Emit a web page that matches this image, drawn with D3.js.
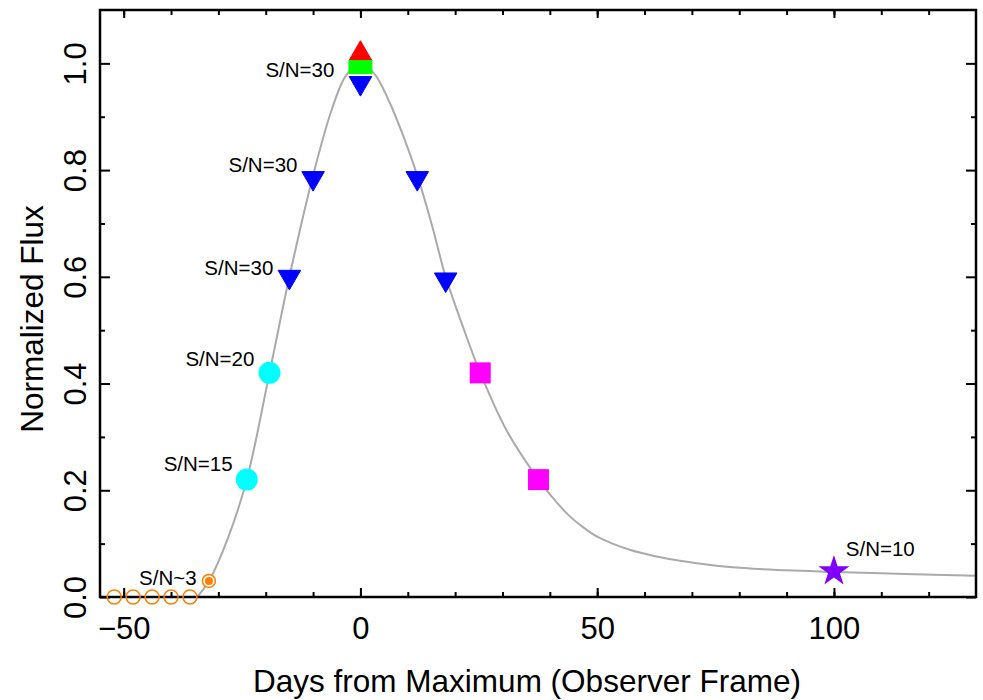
<!DOCTYPE html>
<html>
<head>
<meta charset="utf-8">
<script src="https://cdn.jsdelivr.net/npm/d3@7"></script>
<style>
  body { margin: 0; background: #fff; }
  svg { display: block; font-family: "Liberation Sans", Arial, sans-serif; }
</style>
</head>
<body>
<svg id="chart" width="983" height="700"></svg>
<script>
// ---- data ----
const curveDays = [-34.5, -32, -28, -24, -19.2, -15, -10, -6, -3, 0, 3, 6, 9, 12, 15, 18, 21.5, 25.3, 31, 37.6, 41, 44, 47, 50, 53.5, 57, 62, 67.5, 78, 90, 100, 115, 130];
const curveFlux = [0, 0.03, 0.11, 0.22, 0.42, 0.60, 0.79, 0.915, 0.978, 1.0, 0.98, 0.93, 0.865, 0.79, 0.70, 0.60, 0.51, 0.42, 0.31, 0.22, 0.182, 0.153, 0.131, 0.113, 0.099, 0.088, 0.077, 0.068, 0.056, 0.050, 0.047, 0.043, 0.040];

const limitDays = [-52, -48, -44, -40, -36];          // open orange circles at zero flux
const limitFlux = [0, 0, 0, 0, 0];
const detectDays = [-32];                              // orange circle with dot
const detectFlux = [0.03];
const cyanDays = [-24, -19.2];
const cyanFlux = [0.22, 0.42];
const blueDays = [-15, -10, 0, 12, 18];
const blueFlux = [0.60, 0.785, 0.963, 0.785, 0.595];
const redDays = [0];
const redFlux = [1.018];
const greenDays = [0];
const greenFlux = [0.993];
const magentaDays = [25.3, 37.6];
const magentaFlux = [0.42, 0.22];
const starDays = [100];
const starFlux = [0.05];

const labelText = ["S/N=30", "S/N=30", "S/N=30", "S/N=20", "S/N=15", "S/N~3", "S/N=10"];
const labelDays = [-5.5, -13.3, -18.4, -22.4, -27.0, -34.6, 102.5];
const labelFlux = [0.975, 0.797, 0.604, 0.433, 0.236, 0.022, 0.077];
const labelAnchor = ["end", "end", "end", "end", "end", "end", "start"];

const xMajorTicks = [-50, 0, 50, 100];
const xMinorTicks = [-50, -40, -30, -20, -10, 0, 10, 20, 30, 40, 50, 60, 70, 80, 90, 100, 110, 120];
const yMajorTicks = [0.0, 0.2, 0.4, 0.6, 0.8, 1.0];
const yMinorTicks = [0.1, 0.3, 0.5, 0.7, 0.9];

const xTitle = "Days from Maximum (Observer Frame)";
const yTitle = "Normalized Flux";

// ---- layout ----
const svg = d3.select("#chart");
const L = 100, R = 976, T = 10, B = 597;
const x = d3.scaleLinear().domain([-55, 130]).range([L, R]);
const y = d3.scaleLinear().domain([0, 1.1]).range([B, T]);

// curve
const line = d3.line().x((d, i) => x(curveDays[i])).y((d, i) => y(curveFlux[i])).curve(d3.curveCatmullRom.alpha(0.5));
svg.append("path").datum(curveDays).attr("d", line)
  .attr("fill", "none").attr("stroke", "#aaaaaa").attr("stroke-width", 2);

// axes
function styleAxis(g) {
  g.select(".domain").remove();
  g.selectAll(".tick line").attr("stroke", "#000").attr("stroke-width", 2);
  g.selectAll("text").attr("fill", "#000").attr("font-size", 31).attr("font-family", "Liberation Sans, Arial, sans-serif");
}
svg.append("g").attr("transform", `translate(0,${B})`)
  .call(d3.axisBottom(x).tickValues(xMinorTicks).tickSize(-5).tickFormat(""))
  .call(styleAxis);
svg.append("g").attr("transform", `translate(0,${B})`)
  .call(d3.axisBottom(x).tickValues(xMajorTicks).tickSize(-9).tickPadding(20).tickFormat(d3.format("d")))
  .call(styleAxis);
svg.append("g").attr("transform", `translate(0,${T})`)
  .call(d3.axisTop(x).tickValues(xMinorTicks).tickSize(-5).tickFormat(""))
  .call(styleAxis);
svg.append("g").attr("transform", `translate(0,${T})`)
  .call(d3.axisTop(x).tickValues(xMajorTicks).tickSize(-8).tickFormat(""))
  .call(styleAxis);

svg.append("g").attr("transform", `translate(${L},0)`)
  .call(d3.axisLeft(y).tickValues(yMinorTicks).tickSize(-5).tickFormat(""))
  .call(styleAxis);
const yAx = svg.append("g").attr("transform", `translate(${L},0)`)
  .call(d3.axisLeft(y).tickValues(yMajorTicks).tickSize(-10).tickFormat(d3.format(".1f")))
  .call(styleAxis);
yAx.selectAll("text")
  .attr("transform", "rotate(-90)")
  .attr("x", 0).attr("y", -14).attr("dy", 0)
  .attr("text-anchor", "middle");
svg.append("g").attr("transform", `translate(${R},0)`)
  .call(d3.axisRight(y).tickValues(yMinorTicks).tickSize(-5).tickFormat(""))
  .call(styleAxis);
svg.append("g").attr("transform", `translate(${R},0)`)
  .call(d3.axisRight(y).tickValues(yMajorTicks).tickSize(-10).tickFormat(""))
  .call(styleAxis);

// frame
svg.append("rect").attr("x", L).attr("y", T).attr("width", R - L).attr("height", B - T)
  .attr("fill", "none").attr("stroke", "#000").attr("stroke-width", 2.5);

// axis titles
svg.append("text").attr("x", 527).attr("y", 692).attr("text-anchor", "middle")
  .attr("font-size", 31.5).attr("fill", "#000").text(xTitle);
svg.append("text").attr("transform", `translate(43,319) rotate(-90)`)
  .attr("text-anchor", "middle").attr("font-size", 31.5).attr("fill", "#000").text(yTitle);

// markers
const orange = "#ff7f00";
svg.append("g").selectAll("circle").data(limitDays).join("circle")
  .attr("cx", (d) => x(d)).attr("cy", (d, i) => y(limitFlux[i])).attr("r", 7)
  .attr("fill", "none").attr("stroke", orange).attr("stroke-width", 1.5);
const det = svg.append("g");
det.selectAll("circle.o").data(detectDays).join("circle").attr("class", "o")
  .attr("cx", (d) => x(d)).attr("cy", (d, i) => y(detectFlux[i])).attr("r", 6.5)
  .attr("fill", "#fff").attr("stroke", orange).attr("stroke-width", 1.5);
det.selectAll("circle.i").data(detectDays).join("circle").attr("class", "i")
  .attr("cx", (d) => x(d)).attr("cy", (d, i) => y(detectFlux[i])).attr("r", 4)
  .attr("fill", orange);

svg.append("g").selectAll("circle").data(cyanDays).join("circle")
  .attr("cx", (d) => x(d)).attr("cy", (d, i) => y(cyanFlux[i])).attr("r", 11)
  .attr("fill", "#00ffff");

const tri = d3.symbol().type(d3.symbolTriangle).size(220);
svg.append("g").selectAll("path").data(redDays).join("path")
  .attr("transform", (d, i) => `translate(${x(d)},${y(redFlux[i])})`)
  .attr("d", tri()).attr("fill", "#ff0000").attr("stroke", "#ff0000").attr("stroke-width", 1).attr("stroke-linejoin", "round");
svg.append("g").selectAll("path").data(blueDays).join("path")
  .attr("transform", (d, i) => `translate(${x(d)},${y(blueFlux[i])}) rotate(180)`)
  .attr("d", tri()).attr("fill", "#0000ff").attr("stroke", "#0000ff").attr("stroke-width", 1).attr("stroke-linejoin", "round");
svg.append("g").selectAll("rect").data(greenDays).join("rect")
  .attr("x", (d) => x(d) - 12).attr("y", (d, i) => y(greenFlux[i]) - 7)
  .attr("width", 24).attr("height", 14).attr("fill", "#00ff00");
svg.append("g").selectAll("rect").data(magentaDays).join("rect")
  .attr("x", (d) => x(d) - 10.5).attr("y", (d, i) => y(magentaFlux[i]) - 10.5)
  .attr("width", 21).attr("height", 21).attr("fill", "#ff00ff");

const star = d3.symbol().type(d3.symbolStar).size(300);
svg.append("g").selectAll("path").data(starDays).join("path")
  .attr("transform", (d, i) => `translate(${x(d)},${y(starFlux[i]) + 1})`)
  .attr("d", star()).attr("fill", "#7f00ff");

// labels
svg.append("g").selectAll("text").data(labelText).join("text")
  .attr("x", (d, i) => x(labelDays[i])).attr("y", (d, i) => y(labelFlux[i]))
  .attr("text-anchor", (d, i) => labelAnchor[i])
  .attr("font-size", 20.5).attr("fill", "#000").text((d) => d);
</script>
</body>
</html>
